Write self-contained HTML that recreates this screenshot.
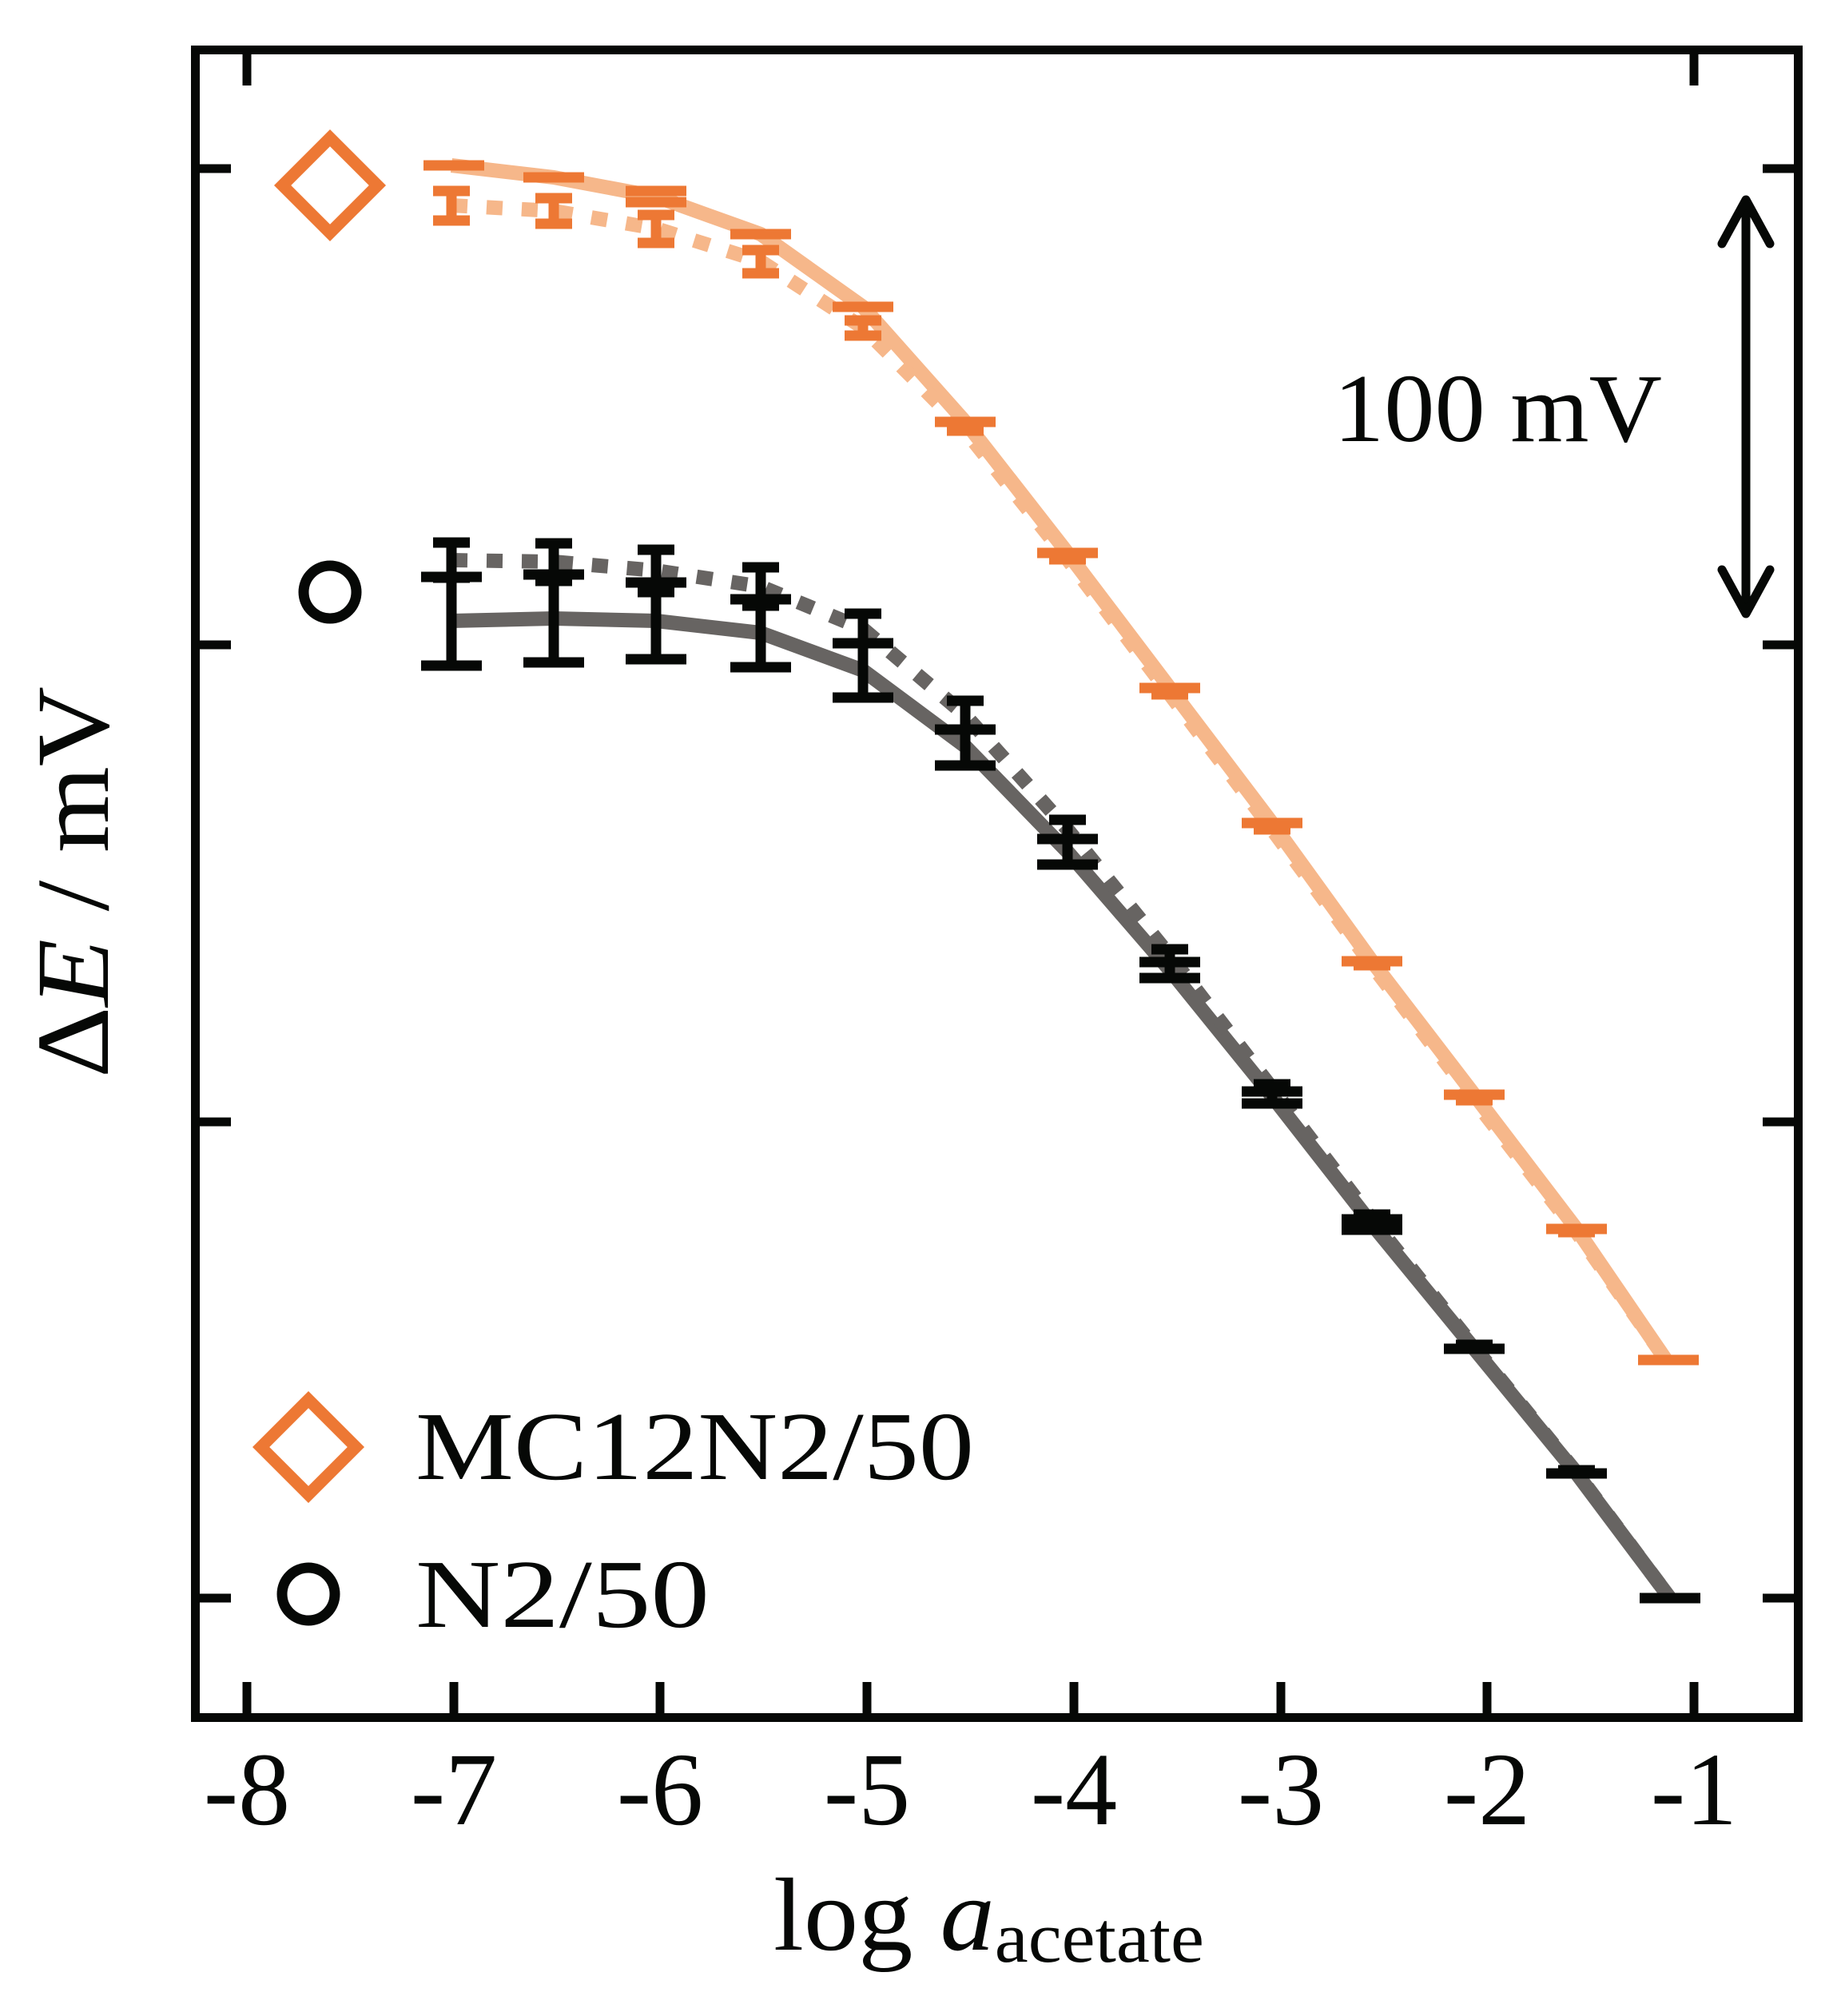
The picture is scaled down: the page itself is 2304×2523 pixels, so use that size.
<!DOCTYPE html>
<html><head><meta charset="utf-8"><style>
html,body{margin:0;padding:0;background:#fff;}
svg{display:block;}
text{font-family:"Liberation Serif",serif;fill:#060806;}
</style></head><body>
<svg width="2304" height="2523" viewBox="0 0 2304 2523" xmlns="http://www.w3.org/2000/svg">
<!-- lines -->
<g fill="none" stroke-linejoin="round">
<polyline stroke="#f6b78a" stroke-width="18" points="565,207 693,222 821,246 952,293 1080,384 1208,528 1336,692 1464,861 1592,1030 1717,1203 1845,1370 1973,1538 2085,1702"/>
<polyline stroke="#f6b78a" stroke-width="18" stroke-dasharray="20 24" points="565,257 693,264 821,286 952,327 1080,410 1208,539 1336,700 1464,869 1592,1038 1717,1208 1845,1377 1973,1542 2085,1702"/>
<polyline stroke="#676462" stroke-width="18" points="565,777 693,774 821,777 952,792 1080,839 1208,934 1336,1066 1464,1214 1592,1372 1717,1532 1845,1688 1973,1844 2090,2000"/>
<polyline stroke="#676462" stroke-width="18" stroke-dasharray="20 24" points="565,701 693,703 821,714 952,734 1080,787 1208,895 1336,1038 1464,1196 1592,1362 1717,1526 1845,1686 1973,1843 2090,2000"/>
</g>
<!-- error bars -->
<g stroke="#ed7834" stroke-width="13" fill="none">
<path d="M530,207h76M655,222h76M783,239h76M783,253h76M914,293h76M1042,384h76M1170,528h76M1298,692h76M1426,861h76M1554,1030h76M1679,1203h76M1807,1370h76M1935,1538h76M2050,1702h76"/>
<path d="M565,239v37M542,239h46M542,276h46 M693,248v32M670,248h46M670,280h46 M821,269v35M798,269h46M798,304h46 M952,313v29M929,313h46M929,342h46 M1080,401v19M1057,401h46M1057,420h46 M1185,539h46M1313,700h46M1441,869h46M1569,1038h46M1694,1208h46M1822,1377h46M1950,1542h46"/>
</g>
<g stroke="#060806" stroke-width="13" fill="none">
<path d="M565,722v111M527,722h76M527,833h76 M693,719v110M655,719h76M655,829h76 M821,729v96M783,729h76M783,825h76 M952,750v85M914,750h76M914,835h76 M1080,805v68M1042,805h76M1042,873h76 M1208,913v45M1170,913h76M1170,958h76 M1336,1050v32M1298,1050h76M1298,1082h76 M1464,1204v20M1426,1204h76M1426,1224h76 M1592,1366v15M1554,1366h76M1554,1381h76 M1717,1526v13M1679,1526h76M1679,1539h76 M1807,1688h76M1935,1844h76M2052,2000h76"/>
<path d="M565,679v44M542,679h46M542,723h46 M693,680v47M670,680h46M670,727h46 M821,688v53M798,688h46M798,741h46 M952,710v48M929,710h46M929,758h46 M1080,768v37M1057,768h46M1057,805h46 M1208,877v36M1185,877h46M1185,913h46 M1336,1026v24M1313,1026h46M1313,1050h46 M1464,1188v16M1441,1188h46M1441,1204h46 M1592,1357v10M1569,1357h46 M1694,1520h46M1822,1683h46M1950,1840h46"/>
</g>
<!-- frame -->
<rect x="244.5" y="62.5" width="2006" height="2087" fill="none" stroke="#060806" stroke-width="11"/>
<g stroke="#060806" stroke-width="11">
<path d="M250,211h39M250,807h39M250,1404h39M250,2000h39"/>
<path d="M2245,211h-39M2245,807h-39M2245,1404h-39M2245,2000h-39"/>
<path d="M309,68v39M2120,68v39"/>
<path d="M309,2144v-39M568,2144v-39M826,2144v-39M1085,2144v-39M1344,2144v-39M1603,2144v-39M1861,2144v-39M2120,2144v-39"/>
</g>
<!-- tick labels -->
<g font-size="130" text-anchor="middle">
<text x="309" y="2283">-8</text><text x="568" y="2283">-7</text><text x="826" y="2283">-6</text><text x="1085" y="2283">-5</text><text x="1344" y="2283">-4</text><text x="1603" y="2283">-3</text><text x="1861" y="2283">-2</text><text x="2120" y="2283">-1</text>
</g>
<text x="968" y="2440" font-size="130" textLength="539" lengthAdjust="spacingAndGlyphs">log <tspan font-style="italic">a</tspan><tspan font-size="90" dy="15">acetate</tspan></text>
<text transform="translate(135,1104) rotate(-90)" font-size="130" text-anchor="middle" textLength="490" lengthAdjust="spacingAndGlyphs">Δ<tspan font-style="italic">E</tspan> / mV</text>
<!-- markers -->
<rect x="371" y="190" width="84" height="84" transform="rotate(45 413 232)" fill="none" stroke="#ed7834" stroke-width="15"/>
<circle cx="413" cy="741" r="33" fill="none" stroke="#060806" stroke-width="13"/>
<rect x="344" y="1769" width="84" height="84" transform="rotate(45 386 1811)" fill="none" stroke="#ed7834" stroke-width="15"/>
<circle cx="386" cy="1995" r="33" fill="none" stroke="#060806" stroke-width="13"/>
<text x="520" y="1851" font-size="122" textLength="699" lengthAdjust="spacingAndGlyphs">MC12N2/50</text>
<text x="520" y="2036" font-size="122" textLength="368" lengthAdjust="spacingAndGlyphs">N2/50</text>
<!-- scale arrow -->
<text x="1669" y="552" font-size="122" textLength="411" lengthAdjust="spacingAndGlyphs">100 mV</text>
<g stroke="#060806" stroke-width="11" fill="none" stroke-linecap="round" stroke-linejoin="round">
<path d="M2185,252v514"/>
<path d="M2155,305l30,-55l30,55M2155,713l30,55l30,-55"/>
</g>
</svg>
</body></html>
